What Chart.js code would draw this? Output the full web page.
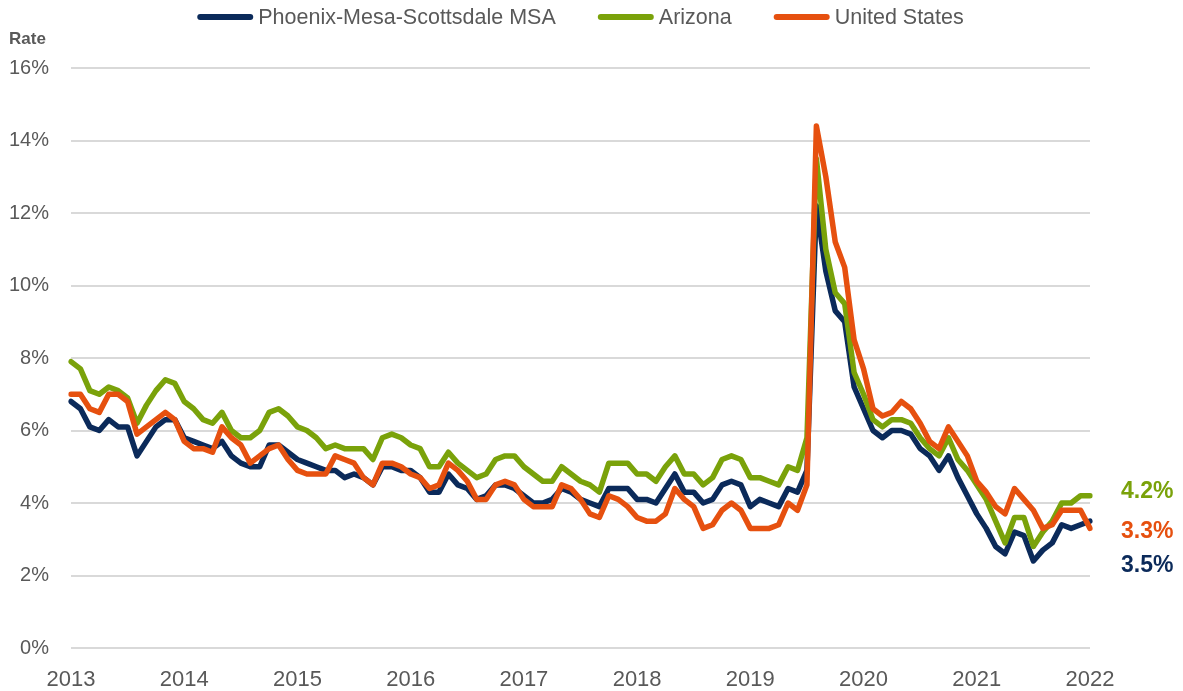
<!DOCTYPE html>
<html>
<head>
<meta charset="utf-8">
<script src="https://cdn.jsdelivr.net/npm/chart.js@4.4.0/dist/chart.umd.min.js"></script>
<style>
  html, body { margin: 0; padding: 0; background: #ffffff; }
  #wrap { width: 1183px; height: 691px; }
</style>
</head>
<body>
<div id="wrap"><canvas id="myChart" width="1183" height="691"></canvas></div>
<script>
// monthly series, Sep 2013 .. Sep 2022 (109 points), percent
const startYear = 2013;
const startMonth = 9;
const yearLabels = ['2013', '2014', '2015', '2016', '2017', '2018', '2019', '2020', '2021', '2022'];

const phoenix = [
  6.8, 6.6, 6.1, 6.0,
  6.3, 6.1, 6.1, 5.3, 5.7, 6.1, 6.3, 6.3, 5.8, 5.7, 5.6, 5.5,
  5.7, 5.3, 5.1, 5.0, 5.0, 5.6, 5.6, 5.4, 5.2, 5.1, 5.0, 4.9,
  4.9, 4.7, 4.8, 4.7, 4.5, 5.0, 5.0, 4.9, 4.9, 4.7, 4.3, 4.3,
  4.8, 4.5, 4.4, 4.1, 4.2, 4.5, 4.5, 4.4, 4.2, 4.0, 4.0, 4.1,
  4.4, 4.3, 4.1, 4.0, 3.9, 4.4, 4.4, 4.4, 4.1, 4.1, 4.0, 4.4,
  4.8, 4.3, 4.3, 4.0, 4.1, 4.5, 4.6, 4.5, 3.9, 4.1, 4.0, 3.9,
  4.4, 4.3, 4.9, 12.2, 10.4, 9.3, 9.0, 7.2, 6.6, 6.0, 5.8, 6.0,
  6.0, 5.9, 5.5, 5.3, 4.9, 5.3, 4.7, 4.2, 3.7, 3.3, 2.8, 2.6,
  3.2, 3.1, 2.4, 2.7, 2.9, 3.4, 3.3, 3.4, 3.5
];
const arizona = [
  7.9, 7.7, 7.1, 7.0,
  7.2, 7.1, 6.9, 6.2, 6.7, 7.1, 7.4, 7.3, 6.8, 6.6, 6.3, 6.2,
  6.5, 6.0, 5.8, 5.8, 6.0, 6.5, 6.6, 6.4, 6.1, 6.0, 5.8, 5.5,
  5.6, 5.5, 5.5, 5.5, 5.2, 5.8, 5.9, 5.8, 5.6, 5.5, 5.0, 5.0,
  5.4, 5.1, 4.9, 4.7, 4.8, 5.2, 5.3, 5.3, 5.0, 4.8, 4.6, 4.6,
  5.0, 4.8, 4.6, 4.5, 4.3, 5.1, 5.1, 5.1, 4.8, 4.8, 4.6, 5.0,
  5.3, 4.8, 4.8, 4.5, 4.7, 5.2, 5.3, 5.2, 4.7, 4.7, 4.6, 4.5,
  5.0, 4.9, 5.8, 13.5, 11.0, 9.8, 9.5, 7.6, 7.0, 6.3, 6.1, 6.3,
  6.3, 6.2, 5.8, 5.5, 5.3, 5.8, 5.2, 4.9, 4.5, 4.1, 3.5, 2.9,
  3.6, 3.6, 2.8, 3.2, 3.5, 4.0, 4.0, 4.2, 4.2
];
const unitedStates = [
  7.0, 7.0, 6.6, 6.5,
  7.0, 7.0, 6.8, 5.9, 6.1, 6.3, 6.5, 6.3, 5.7, 5.5, 5.5, 5.4,
  6.1, 5.8, 5.6, 5.1, 5.3, 5.5, 5.6, 5.2, 4.9, 4.8, 4.8, 4.8,
  5.3, 5.2, 5.1, 4.7, 4.5, 5.1, 5.1, 5.0, 4.8, 4.7, 4.4, 4.5,
  5.1, 4.9, 4.6, 4.1, 4.1, 4.5, 4.6, 4.5, 4.1, 3.9, 3.9, 3.9,
  4.5, 4.4, 4.1, 3.7, 3.6, 4.2, 4.1, 3.9, 3.6, 3.5, 3.5, 3.7,
  4.4, 4.1, 3.9, 3.3, 3.4, 3.8, 4.0, 3.8, 3.3, 3.3, 3.3, 3.4,
  4.0, 3.8, 4.5, 14.4, 13.0, 11.2, 10.5, 8.5, 7.7, 6.6, 6.4, 6.5,
  6.8, 6.6, 6.2, 5.7, 5.5, 6.1, 5.7, 5.3, 4.6, 4.3, 3.9, 3.7,
  4.4, 4.1, 3.8, 3.3, 3.4, 3.8, 3.8, 3.8, 3.3
];

const corNavy = '#0b2a5a';
const corVerde = '#7aa20a';
const corLaranja = '#e6500f';
const corTexto = '#595959';
const fonte = "'Liberation Sans', Arial, sans-serif";

// category labels, one per month
const meses = [];
for (let i = 0; i < phoenix.length; i++) {
  const m = startMonth - 1 + i;
  meses.push((startYear + Math.floor(m / 12)) + '-' + String(m % 12 + 1).padStart(2, '0'));
}

// tick label only at the first point and every 12 months after it
function rotuloAno(index) {
  if (index % 12 !== 0) return null;
  return yearLabels[index / 12];
}

// legend row + "Rate" title, drawn by hand so the spacing matches
const legendaTopo = {
  id: 'legendaTopo',
  afterDraw(chart) {
    const ctx = chart.ctx;
    const area = chart.chartArea;
    ctx.save();
    ctx.font = '21.5px ' + fonte;
    ctx.textBaseline = 'middle';
    const linha = 56, gapTexto = 5, gapItem = 42;
    const itens = chart.data.datasets.map(ds => ({ ds, w: ctx.measureText(ds.label).width }));
    let total = 0;
    itens.forEach((it, i) => { total += linha + gapTexto + it.w + (i < itens.length - 1 ? gapItem : 0); });
    let x = (area.left + area.right) / 2 - total / 2;
    const y = 17;
    itens.forEach(it => {
      ctx.strokeStyle = it.ds.borderColor;
      ctx.lineWidth = 6;
      ctx.lineCap = 'round';
      ctx.beginPath();
      ctx.moveTo(x + 3, y);
      ctx.lineTo(x + linha - 3, y);
      ctx.stroke();
      ctx.fillStyle = corTexto;
      ctx.textAlign = 'left';
      ctx.fillText(it.ds.label, x + linha + gapTexto, y + 1);
      x += linha + gapTexto + it.w + gapItem;
    });
    ctx.font = 'bold 17px ' + fonte;
    ctx.fillText('Rate', 9, 39);
    ctx.restore();
  }
};

// value labels to the right of the last point
const rotulosFinais = {
  id: 'rotulosFinais',
  afterDatasetsDraw(chart) {
    const ctx = chart.ctx;
    const area = chart.chartArea;
    ctx.save();
    ctx.font = 'bold 23px ' + fonte;
    ctx.textAlign = 'left';
    ctx.textBaseline = 'middle';
    chart.data.datasets.forEach((ds, i) => {
      const meta = chart.getDatasetMeta(i);
      const ultimo = meta.data[meta.data.length - 1];
      const valor = ds.data[ds.data.length - 1];
      ctx.fillStyle = ds.borderColor;
      ctx.fillText(valor.toFixed(1) + '%', area.right + 31, ultimo.y + ds.deslocRotulo);
    });
    ctx.restore();
  }
};

function serie(nome, dados, cor, ordem, desloc) {
  return {
    label: nome,
    data: dados,
    borderColor: cor,
    backgroundColor: cor,
    borderWidth: 5.5,
    borderCapStyle: 'round',
    borderJoinStyle: 'round',
    pointRadius: 0,
    tension: 0,
    order: ordem,
    deslocRotulo: desloc
  };
}

const ctx = document.getElementById('myChart').getContext('2d');
const meuGrafico = new Chart(ctx, {
  type: 'line',
  data: {
    labels: meses,
    datasets: [
      serie('Phoenix-Mesa-Scottsdale MSA', phoenix, corNavy, 2, 45),
      serie('Arizona', arizona, corVerde, 1, -4),
      serie('United States', unitedStates, corLaranja, 0, 3)
    ]
  },
  options: {
    responsive: false,
    animation: false,
    devicePixelRatio: 1,
    layout: { padding: { left: 9, right: 93, top: 68, bottom: 0 } },
    plugins: {
      legend: { display: false },
      tooltip: { enabled: false }
    },
    scales: {
      x: {
        offset: false,
        grid: { display: false, drawTicks: false },
        border: { display: false },
        afterFit: (scale) => { scale.height = 43; },
        ticks: {
          autoSkip: false,
          maxRotation: 0,
          padding: 21,
          color: corTexto,
          font: { family: fonte, size: 22, lineHeight: 1 },
          callback: (v, i) => rotuloAno(i)
        }
      },
      y: {
        min: 0,
        max: 16,
        grid: { color: '#d9d9d9', lineWidth: 2, drawTicks: false },
        border: { display: false },
        afterFit: (scale) => { scale.width = 62; },
        ticks: {
          stepSize: 2,
          padding: 22,
          color: corTexto,
          font: { family: fonte, size: 20 },
          callback: (v) => v + '%'
        }
      }
    }
  },
  plugins: [legendaTopo, rotulosFinais]
});
</script>
</body>
</html>
